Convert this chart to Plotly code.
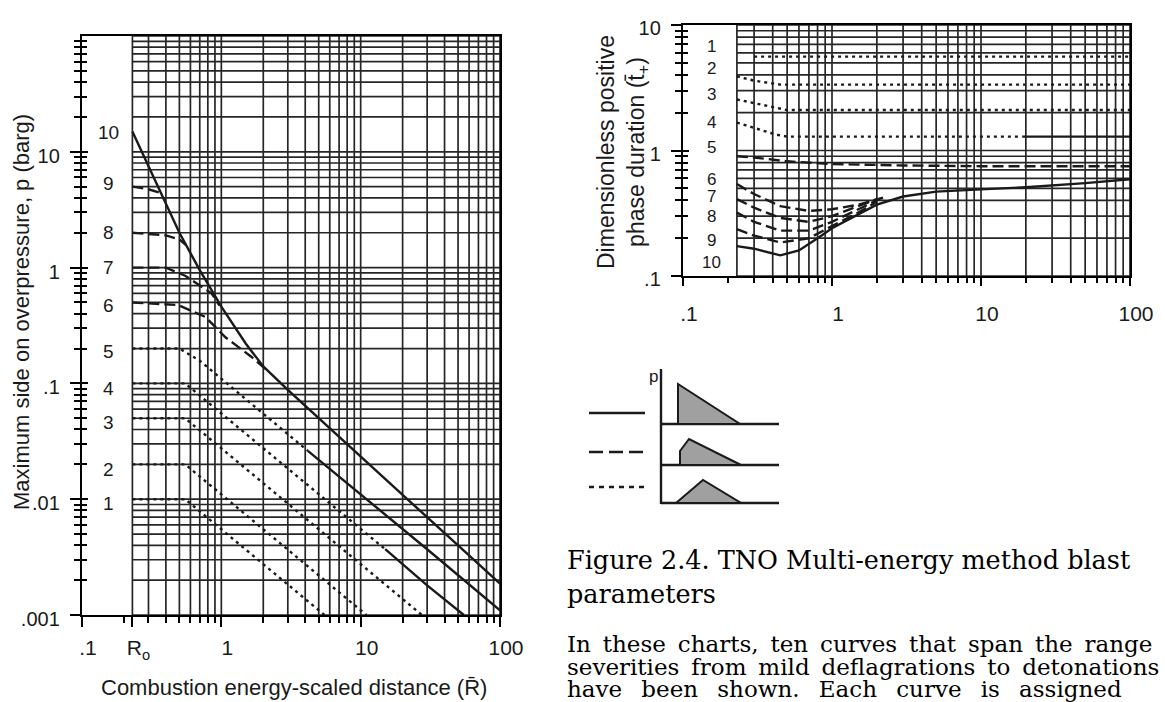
import math
import plotly.graph_objects as go

W, H = 1165, 702
SANS = "Liberation Sans, Arial, sans-serif"
SERIF = "DejaVu Serif, Liberation Serif, serif"
INK = "#1a1a1a"


def px(x):
    return x / W


def py(y):
    return 1 - y / H


# ---------------- data: left chart (peak side-on overpressure) ----------------
R0 = 0.23
curve_names = ["1", "2", "3", "4", "5", "6", "7", "8", "9", "10"]
left_label_p = [0.0091, 0.018, 0.046, 0.09, 0.19, 0.47, 1.0, 2.0, 5.3, 14.8]

c10_R = [0.23, 0.3, 0.4, 0.5, 0.7, 1, 1.5, 2, 3, 5, 10, 20, 50, 100]
c10_p = [15, 7.5, 3.6, 2.0, 0.95, 0.46, 0.22, 0.14, 0.088, 0.05, 0.0234, 0.0109, 0.004, 0.00187]
c9_R = [0.23, 0.3, 0.36]
c9_p = [5.0, 4.75, 4.45]
c8_R = [0.23, 0.4, 0.5, 0.56]
c8_p = [2.0, 1.9, 1.75, 1.56]
c7_R = [0.23, 0.4, 0.55, 0.68, 0.85, 0.97]
c7_p = [1.0, 1.0, 0.85, 0.72, 0.6, 0.47]
c6_R = [0.23, 0.49, 0.77, 1.07, 1.64, 2.2]
c6_p = [0.5, 0.475, 0.374, 0.25, 0.17, 0.125]
c5_dot_R = [0.23, 0.5, 0.7, 1, 2, 4.2]
c5_dot_p = [0.2, 0.2, 0.157, 0.11, 0.055, 0.026]
c5_sol_R = [4.2, 10, 30, 100]
c5_sol_p = [0.026, 0.011, 0.0037, 0.0011]
c4_dot_R = [0.23, 0.55, 1, 3, 15]
c4_dot_p = [0.1, 0.1, 0.055, 0.0183, 0.0037]
c4_sol_R = [15, 30, 55]
c4_sol_p = [0.0037, 0.0018, 0.001]
c3_R = [0.23, 0.55, 1, 5, 27.5]
c3_p = [0.05, 0.05, 0.0275, 0.0055, 0.001]
c2_R = [0.23, 0.55, 1, 11]
c2_p = [0.02, 0.02, 0.011, 0.001]
c1_R = [0.23, 0.55, 1, 5.5]
c1_p = [0.01, 0.01, 0.0055, 0.001]

# ---------------- data: right chart (positive phase duration) ----------------
right_label_t = [6.7, 4.5, 2.78, 1.67, 1.06, 0.59, 0.43, 0.30, 0.193, 0.129]

d1_R = [0.3, 100]
d1_t = [5.6, 5.6]
d2_R = [0.23, 0.3, 0.45, 100]
d2_t = [3.9, 3.6, 3.35, 3.35]
d3_R = [0.23, 0.4, 0.5, 100]
d3_t = [2.55, 2.2, 2.1, 2.1]
d4_dot_R = [0.23, 0.32, 0.42, 0.5, 19]
d4_dot_t = [1.67, 1.47, 1.34, 1.29, 1.29]
d4_sol_R = [19, 100]
d4_sol_t = [1.29, 1.29]
d5_R = [0.23, 0.3, 0.5, 1, 3, 10, 100]
d5_t = [0.9, 0.88, 0.82, 0.78, 0.76, 0.75, 0.75]
d6_R = [0.23, 0.3, 0.45, 0.7, 1, 1.5, 2.2]
d6_t = [0.54, 0.45, 0.36, 0.33, 0.34, 0.37, 0.42]
d7_R = [0.23, 0.3, 0.45, 0.7, 1, 1.5, 2]
d7_t = [0.41, 0.35, 0.29, 0.27, 0.3, 0.36, 0.41]
d8_R = [0.23, 0.3, 0.45, 0.7, 1, 1.5, 2]
d8_t = [0.32, 0.27, 0.23, 0.23, 0.27, 0.34, 0.40]
d9_R = [0.23, 0.3, 0.45, 0.7, 1, 1.5, 2]
d9_t = [0.236, 0.21, 0.185, 0.2, 0.25, 0.32, 0.39]
d10_R = [0.23, 0.3, 0.45, 0.6, 0.8, 1, 1.5, 2, 3, 5, 10, 20, 50, 100]
d10_t = [0.173, 0.165, 0.146, 0.16, 0.2, 0.24, 0.31, 0.37, 0.43, 0.47, 0.49, 0.51, 0.55, 0.59]

# tick labels
left_x_ticks = [0.1, R0, 1, 10, 100]
left_x_text = [".1", "R<sub>o</sub>", "1", "10", "100"]
left_y_ticks = [0.001, 0.01, 0.1, 1, 10]
left_y_text = [".001", ".01", ".1", "1", "10"]
right_x_ticks = [0.1, 1, 10, 100]
right_x_text = [".1", "1", "10", "100"]
right_y_ticks = [0.1, 1, 10]
right_y_text = [".1", "1", "10"]

DASH = {"solid": "solid", "dash": "11px,5px", "dot": "3px,4px"}


def log_grid(lo_exp, hi_exp, start=1):
    vals = []
    for e in range(lo_exp, hi_exp):
        for m in range(start, 10):
            vals.append(m * 10 ** e)
    vals.append(10 ** hi_exp)
    return vals


def minor_vals(lo_exp, hi_exp):
    return [v for v in log_grid(lo_exp, hi_exp, 2) if round(math.log10(v), 6) % 1 != 0]


fig = go.Figure()
grid_col = "#262626"


def add_grid(xv, yh, x_lo, x_hi, y_lo, y_hi, xa, ya):
    xs, ys = [], []
    for v in xv:
        xs += [v, v, None]
        ys += [y_lo, y_hi, None]
    for hv in yh:
        xs += [x_lo, x_hi, None]
        ys += [hv, hv, None]
    fig.add_trace(go.Scatter(x=xs, y=ys, mode="lines", xaxis=xa, yaxis=ya,
                             line=dict(color=grid_col, width=1.7),
                             showlegend=False, hoverinfo="skip"))


# grids are drawn only to the right of R0, as in the original charts
left_vgrid = [R0] + [v for v in log_grid(-1, 2) if v >= 0.3]
left_hgrid = log_grid(-3, 2)
add_grid(left_vgrid, left_hgrid, R0, 100, 0.001, 100, "x", "y")
right_vgrid = [R0] + [v for v in log_grid(-1, 2) if v >= 0.3]
right_hgrid = log_grid(-1, 1)
add_grid(right_vgrid, right_hgrid, R0, 100, 0.1, 10, "x2", "y2")

left_segments = [
    (c10_R, c10_p, "solid"), (c9_R, c9_p, "dash"), (c8_R, c8_p, "dash"),
    (c7_R, c7_p, "dash"), (c6_R, c6_p, "dash"),
    (c5_dot_R, c5_dot_p, "dot"), (c5_sol_R, c5_sol_p, "solid"),
    (c4_dot_R, c4_dot_p, "dot"), (c4_sol_R, c4_sol_p, "solid"),
    (c3_R, c3_p, "dot"), (c2_R, c2_p, "dot"), (c1_R, c1_p, "dot"),
]
for xs, ys, dash in left_segments:
    fig.add_trace(go.Scatter(x=xs, y=ys, mode="lines", xaxis="x", yaxis="y",
                             line=dict(color=INK, width=2.4, dash=DASH[dash]),
                             showlegend=False, hoverinfo="skip"))

right_segments = [
    (d1_R, d1_t, "dot"), (d2_R, d2_t, "dot"), (d3_R, d3_t, "dot"),
    (d4_dot_R, d4_dot_t, "dot"), (d4_sol_R, d4_sol_t, "solid"),
    (d5_R, d5_t, "dash"), (d6_R, d6_t, "dash"), (d7_R, d7_t, "dash"),
    (d8_R, d8_t, "dash"), (d9_R, d9_t, "dash"), (d10_R, d10_t, "solid"),
]
for xs, ys, dash in right_segments:
    fig.add_trace(go.Scatter(x=xs, y=ys, mode="lines", xaxis="x2", yaxis="y2",
                             line=dict(color=INK, width=2.4, dash=DASH[dash]),
                             showlegend=False, hoverinfo="skip"))

# empty traces so the overlay tick axes are drawn
fig.add_trace(go.Scatter(x=[], y=[], xaxis="x", yaxis="y3", showlegend=False))
fig.add_trace(go.Scatter(x=[], y=[], xaxis="x2", yaxis="y4", showlegend=False))


def axis_common(**kw):
    d = dict(type="log", showline=True, linecolor="black", linewidth=2.4,
             mirror=True, ticks="outside", tickwidth=2, tickcolor="black",
             showgrid=False, zeroline=False, automargin=False,
             tickfont=dict(family=SANS, size=20, color=INK))
    d.update(kw)
    return d


def minor_ticks(lo, hi, ln, where="outside"):
    return dict(tickvals=minor_vals(lo, hi), ticks=where, ticklen=ln,
                tickcolor="black", tickwidth=1.6, showgrid=False)


def inner_ticks(domain, rng, anchor, overlay, lo, hi):
    # second copy of a y axis that only carries the inward half of the crossing ticks
    return dict(type="log", domain=domain, range=rng, anchor=anchor, overlaying=overlay,
                side="left", showline=False, showgrid=False, zeroline=False,
                showticklabels=False, ticks="inside", ticklen=6, tickwidth=2,
                tickcolor="black", tickvals=[10 ** e for e in range(lo, hi + 1)],
                minor=minor_ticks(lo, hi, 5, "inside"), automargin=False)


fig.update_layout(
    template="none",
    width=W, height=H, margin=dict(l=0, r=0, t=0, b=0, autoexpand=False),
    paper_bgcolor="white", plot_bgcolor="white", showlegend=False,
    xaxis=axis_common(domain=[px(82), px(500)], range=[-1, 2], anchor="y",
                      tickvals=left_x_ticks, ticktext=left_x_text, ticklen=10,
                      ticklabelstandoff=3, ticklabelshift=6,
                      tickfont=dict(family=SANS, size=21, color=INK),
                      minor=minor_ticks(-1, 2, 6)),
    yaxis=axis_common(domain=[py(615), py(36)], range=[-3, 2], anchor="x",
                      tickvals=left_y_ticks, ticktext=left_y_text, ticklen=10,
                      ticklabelstandoff=6, ticklabelshift=4,
                      minor=minor_ticks(-3, 2, 6)),
    yaxis3=inner_ticks([py(615), py(36)], [-3, 2], "x", "y", -3, 2),
    xaxis2=axis_common(domain=[px(683), px(1130)], range=[-1, 2], anchor="y2",
                       tickvals=right_x_ticks, ticktext=right_x_text, ticklen=8,
                       ticklabelstandoff=10, ticklabelshift=6,
                       tickfont=dict(family=SANS, size=21, color=INK),
                       minor=minor_ticks(-1, 2, 5)),
    yaxis2=axis_common(domain=[py(276), py(25)], range=[-1, 1], anchor="x2",
                       tickvals=right_y_ticks, ticktext=right_y_text, ticklen=10,
                       ticklabelstandoff=6, ticklabelshift=3,
                       minor=minor_ticks(-1, 1, 6)),
    yaxis4=inner_ticks([py(276), py(25)], [-1, 1], "x2", "y2", -1, 1),
)

# curve numbers (annotation coordinates on log axes are log10 values)
label_logx = math.log10(0.155)
for name, yv in zip(curve_names, left_label_p):
    fig.add_annotation(x=label_logx, y=math.log10(yv), xref="x", yref="y", text=name,
                       showarrow=False, xanchor="center", yanchor="middle",
                       font=dict(family=SANS, size=19, color=INK))
for name, yv in zip(curve_names, right_label_t):
    fig.add_annotation(x=label_logx, y=math.log10(yv), xref="x2", yref="y2", text=name,
                       showarrow=False, xanchor="center", yanchor="middle",
                       font=dict(family=SANS, size=17, color=INK))

# axis titles
fig.add_annotation(x=px(21), y=py(312), xref="paper", yref="paper", textangle=-90,
                   xanchor="center", yanchor="middle",
                   text="Maximum side on overpressure, p (barg)", showarrow=False,
                   font=dict(family=SANS, size=22, color=INK))
fig.add_annotation(x=px(294), y=py(687), xref="paper", yref="paper",
                   xanchor="center", yanchor="middle",
                   text="Combustion energy-scaled distance (R\u0304)", showarrow=False,
                   font=dict(family=SANS, size=22, color=INK))
fig.add_annotation(x=px(623), y=py(152), xref="paper", yref="paper", textangle=-90,
                   xanchor="center", yanchor="middle",
                   text="Dimensionless positive<br>phase duration (t\u0304<sub>+</sub>)",
                   showarrow=False, font=dict(family=SANS, size=23, color=INK))

# ---------------- pulse-shape key ----------------
key_lines = [(413, "solid"), (452, "14px,6px"), (487, "5px,5px")]
for yk, dash in key_lines:
    fig.add_shape(type="line", xref="paper", yref="paper", x0=px(589), x1=px(645),
                  y0=py(yk), y1=py(yk), line=dict(color=INK, width=2.6, dash=dash))
fig.add_shape(type="line", xref="paper", yref="paper", x0=px(661), x1=px(661),
              y0=py(369), y1=py(504), line=dict(color=INK, width=2.4))
for yb in [424, 465, 503]:
    fig.add_shape(type="line", xref="paper", yref="paper", x0=px(661), x1=px(779),
                  y0=py(yb), y1=py(yb), line=dict(color=INK, width=2.4))
pulses = [
    [(678, 424), (678, 384), (740, 424)],
    [(680, 465), (680, 451), (689, 439), (741, 465)],
    [(676, 503), (703, 480), (741, 503)],
]
for poly in pulses:
    path = "M " + " L ".join(f"{px(a):.5f},{py(b):.5f}" for a, b in poly) + " Z"
    fig.add_shape(type="path", xref="paper", yref="paper", path=path,
                  fillcolor="#a0a0a0", line=dict(color=INK, width=2))
fig.add_annotation(x=px(653), y=py(376), xref="paper", yref="paper", text="p",
                   xanchor="center", yanchor="middle",
                   showarrow=False, font=dict(family=SANS, size=17, color=INK))

# ---------------- caption text ----------------
NB = "\u00a0"
TH = "\u2009"
line1 = (" " + TH).join(["In", "these", "charts,", "ten", "curves", "that", "span", "the", "range"])
line2 = (" " + TH).join(["severities", "from", "mild", "deflagrations", "to", "detonations"])
line3 = (" " + NB + TH).join(["have", "been", "shown.", "Each", "curve", "is", "assigned"])
caption_lines = [
    (560, "Figure 2.4. TNO Multi-energy method blast", 25.5),
    (594, "parameters", 25.5),
    (644, line1, 23),
    (667, line2, 23),
    (689, line3, 23),
]
for yc, txt, fs in caption_lines:
    fig.add_annotation(x=px(566), y=py(yc), xref="paper", yref="paper", text=txt,
                       showarrow=False, xanchor="left", yanchor="middle", borderpad=0,
                       font=dict(family=SERIF, size=fs, color="black"))

fig.write_html("out.html")
